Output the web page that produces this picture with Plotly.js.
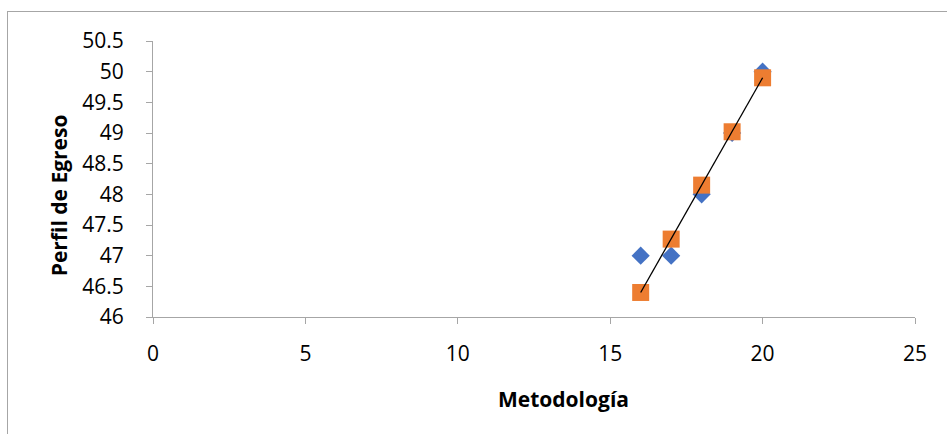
<!DOCTYPE html>
<html>
<head>
<meta charset="utf-8">
<script src="https://cdn.plot.ly/plotly-3.0.1.min.js"></script>
<style>
  html, body { margin: 0; padding: 0; background: #fff; }
  #wrap { position: relative; width: 947px; height: 434px; overflow: hidden; }
  #frame { position: absolute; left: 7px; top: 11px; width: 960px; height: 440px; border: 1px solid #A6A6A6; box-sizing: border-box; pointer-events: none; }
  #chart { position: absolute; left: 0; top: 0; width: 947px; height: 434px; }
</style>
</head>
<body>
<div id="wrap">
  <div id="chart"></div>
  <div id="frame"></div>
</div>
<script>
const metodologia = [16, 17, 18, 19, 20];
const perfilObservado = [47, 47, 48, 49, 50];
const perfilPronosticado = [46.40, 47.27, 48.15, 49.02, 49.90];
const xTitle = 'Metodología';
const yTitle = 'Perfil de Egreso';

const FONT = '"Open Sans", "Liberation Sans", sans-serif';

const traces = [
  {
    x: metodologia, y: perfilObservado, type: 'scatter', mode: 'markers',
    name: 'Perfil de Egreso',
    marker: { symbol: 'diamond', size: 14, color: '#4472C4' },
    hoverinfo: 'x+y'
  },
  {
    x: metodologia, y: perfilPronosticado, type: 'scatter', mode: 'markers',
    name: 'Pronóstico Perfil de Egreso',
    marker: { symbol: 'square', size: 17, color: '#ED7D31' },
    hoverinfo: 'x+y'
  },
  {
    x: metodologia, y: perfilPronosticado, type: 'scatter', mode: 'lines',
    name: 'Lineal',
    line: { color: '#000000', width: 1.3 },
    hoverinfo: 'skip'
  }
];

const layout = {
  width: 947, height: 434,
  margin: { l: 153, r: 32, t: 41, b: 117 },
  paper_bgcolor: 'rgba(0,0,0,0)',
  plot_bgcolor: 'rgba(0,0,0,0)',
  showlegend: false,
  font: { family: FONT, size: 21, color: '#000000' },
  xaxis: {
    range: [0, 25], dtick: 5, tick0: 0,
    showgrid: false, zeroline: false,
    showline: true, linecolor: '#A6A6A6', linewidth: 1,
    ticks: 'outside', ticklen: 6, tickcolor: '#A6A6A6', tickwidth: 1,
    ticklabelstandoff: 12,
    tickfont: { family: FONT, size: 21, color: '#000' }
  },
  yaxis: {
    range: [46, 50.5], dtick: 0.5, tick0: 46,
    showgrid: false, zeroline: false,
    showline: true, linecolor: '#A6A6A6', linewidth: 1,
    ticks: 'outside', ticklen: 6, tickcolor: '#A6A6A6', tickwidth: 1,
    ticklabelstandoff: 18,
    tickfont: { family: FONT, size: 21, color: '#000' }
  },
  annotations: [
    {
      text: '<b>' + xTitle + '</b>', xref: 'paper', yref: 'paper',
      x: 0.539, y: -0.297, xanchor: 'center', yanchor: 'middle',
      showarrow: false, font: { family: FONT, size: 21, color: '#000' }
    },
    {
      text: '<b>' + yTitle + '</b>', xref: 'paper', yref: 'paper',
      x: -0.123, y: 0.442, xanchor: 'center', yanchor: 'middle', textangle: -90,
      showarrow: false, font: { family: FONT, size: 21, color: '#000' }
    }
  ]
};

Plotly.newPlot('chart', traces, layout, { displayModeBar: false, staticPlot: true });
</script>
</body>
</html>
